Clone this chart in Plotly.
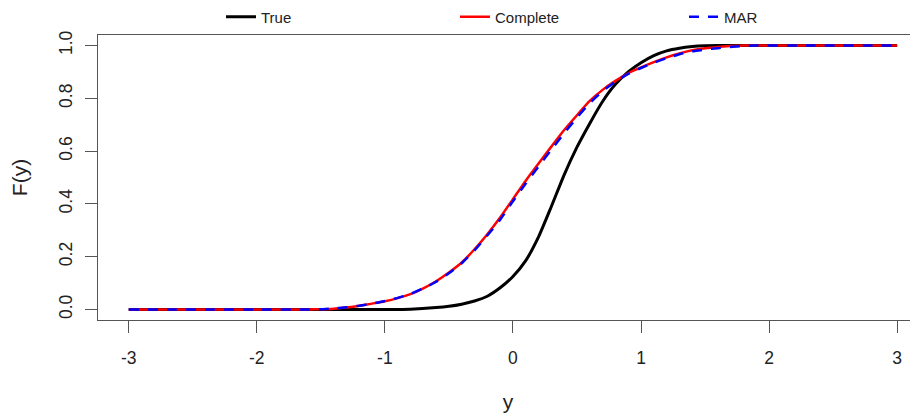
import plotly.graph_objects as go

# ---- data ----
true_x = [-3, -1.0, -0.8, -0.6, -0.5, -0.4, -0.3, -0.2, -0.1, 0.0, 0.1, 0.2, 0.3, 0.4, 0.5,
          0.6, 0.7, 0.8, 0.9, 1.0, 1.1, 1.2, 1.3, 1.4, 1.5, 1.6, 2.0, 3]
true_F = [0, 0, 0.001, 0.007, 0.012, 0.02, 0.032, 0.05, 0.082, 0.125, 0.185, 0.275, 0.39, 0.51, 0.615,
          0.705, 0.788, 0.853, 0.90, 0.935, 0.962, 0.98, 0.99, 0.996, 0.999, 1.0, 1.0, 1.0]

comp_x = [-3, -2.0, -1.6, -1.5, -1.4, -1.3, -1.2, -1.1, -1.0, -0.9, -0.8, -0.7, -0.6, -0.5, -0.4, -0.3,
          -0.2, -0.1, 0.0, 0.1, 0.2, 0.3, 0.4, 0.5, 0.6, 0.7, 0.8, 0.9, 1.0, 1.1, 1.2, 1.3, 1.4,
          1.5, 1.6, 1.7, 1.8, 2.2, 3]
comp_F = [0, 0, 0, 0.001, 0.003, 0.007, 0.014, 0.022, 0.031, 0.043, 0.058, 0.08, 0.107, 0.14, 0.178, 0.228,
          0.285, 0.348, 0.418, 0.488, 0.553, 0.617, 0.68, 0.736, 0.79, 0.832, 0.866, 0.895, 0.917, 0.937,
          0.955, 0.97, 0.982, 0.99, 0.995, 0.998, 1.0, 1.0, 1.0]

mar_x = [-3, -2.0, -1.6, -1.5, -1.4, -1.3, -1.2, -1.1, -1.0, -0.9, -0.8, -0.7, -0.6, -0.5, -0.4, -0.3,
         -0.2, -0.1, 0.0, 0.1, 0.2, 0.3, 0.4, 0.5, 0.6, 0.7, 0.8, 0.9, 1.0, 1.1, 1.2, 1.3, 1.4,
         1.5, 1.6, 1.7, 1.8, 1.9, 2.3, 3]
mar_F = [0, 0, 0, 0.001, 0.004, 0.008, 0.014, 0.022, 0.032, 0.044, 0.059, 0.08, 0.105, 0.137, 0.175, 0.224,
         0.28, 0.34, 0.41, 0.477, 0.542, 0.605, 0.668, 0.727, 0.782, 0.827, 0.863, 0.893, 0.915, 0.935,
         0.952, 0.967, 0.978, 0.985, 0.99, 0.995, 0.998, 1.0, 1.0, 1.0]

x_ticks = [-3, -2, -1, 0, 1, 2, 3]
x_labels = ["-3", "-2", "-1", "0", "1", "2", "3"]
y_ticks = [0.0, 0.2, 0.4, 0.6, 0.8, 1.0]
y_labels = ["0.0", "0.2", "0.4", "0.6", "0.8", "1.0"]

FONT = "Liberation Sans, Arial, sans-serif"
AX = "#555555"

fig = go.Figure()
fig.add_trace(go.Scatter(x=true_x, y=true_F, mode="lines", name="True", legendwidth=189,
                         line=dict(color="black", width=3, shape="spline", smoothing=0.6)))
fig.add_trace(go.Scatter(x=comp_x, y=comp_F, mode="lines", name="Complete", legendwidth=184,
                         line=dict(color="#ff0000", width=2.5, shape="spline", smoothing=0.6)))
fig.add_trace(go.Scatter(x=mar_x, y=mar_F, mode="lines", name="MAR", legendwidth=100,
                         line=dict(color="#0000ff", width=2.5, dash="10px,9px",
                                   shape="spline", smoothing=0.6)))

# page body has an 8px margin, so the figure is 910x408 and offsets are compensated
fig.update_layout(
    width=910, height=408,
    margin=dict(l=90, r=0, t=27, b=96, autoexpand=False),
    paper_bgcolor="white", plot_bgcolor="white",
    font=dict(family=FONT, size=17.5, color="#222222"),
    showlegend=True,
    legend=dict(orientation="h", x=0.15, xanchor="left", y=1.063, yanchor="middle",
                entrywidthmode="pixels",
                font=dict(size=15, color="#222222"), bgcolor="rgba(0,0,0,0)",
                itemclick=False, itemdoubleclick=False),
    xaxis=dict(range=[-3.24, 3.163], tickvals=x_ticks, ticktext=x_labels, ticks="outside", ticklen=12,
               tickcolor=AX, showline=True, linecolor=AX, linewidth=1, mirror=True,
               showgrid=False, zeroline=False, ticklabelstandoff=10, automargin=False,
               title=dict(text="y", standoff=27)),
    yaxis=dict(range=[-0.04, 1.04], tickvals=y_ticks, ticktext=y_labels, tickangle=-90,
               ticks="outside", ticklen=12, tickcolor=AX, showline=True, linecolor=AX,
               linewidth=1, mirror=False, showgrid=False, zeroline=False,
               ticklabelstandoff=6, automargin=False,
               title=dict(text="F(y)", standoff=25)),
)

fig.write_html("out.html")
